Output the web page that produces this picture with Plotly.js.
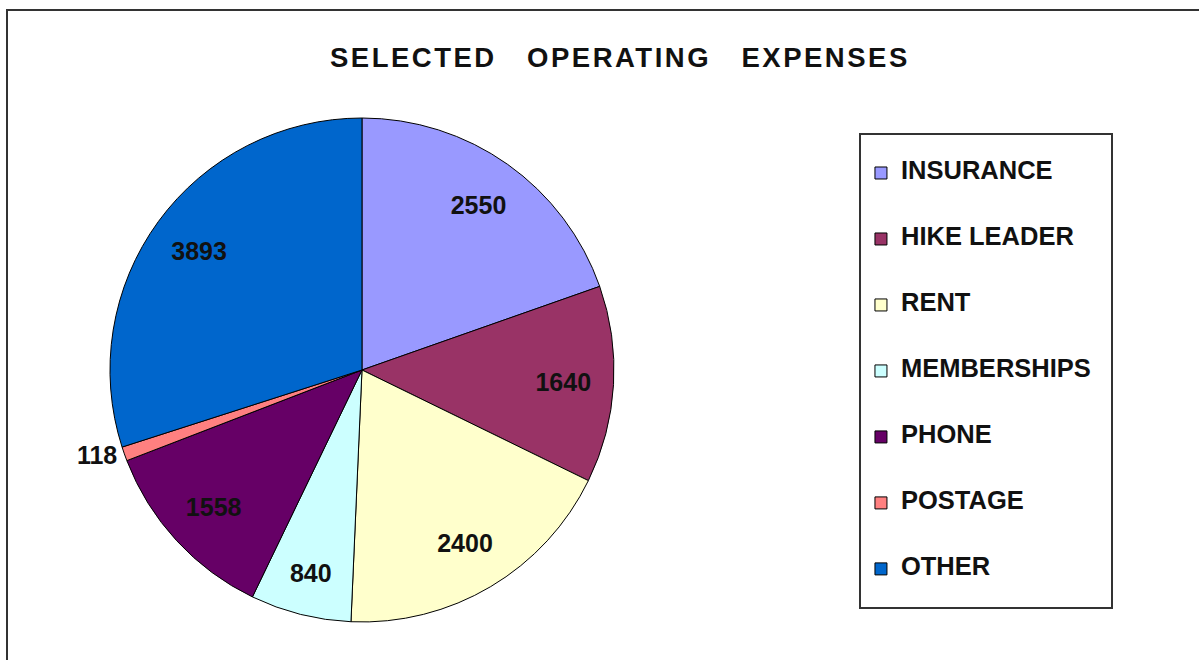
<!DOCTYPE html>
<html>
<head>
<meta charset="utf-8">
<script src="https://cdn.plot.ly/plotly-3.0.1.min.js"></script>
<style>html,body{margin:0;padding:0;background:#fff;}#chart{width:1199px;height:660px;}</style>
</head>
<body>
<div id="chart"></div>
<script>
const categories = ["INSURANCE", "HIKE LEADER", "RENT", "MEMBERSHIPS", "PHONE", "POSTAGE", "OTHER"];
const values = [2550, 1640, 2400, 840, 1558, 118, 3893];
const colors = ["#9999FF", "#993366", "#FFFFCC", "#CCFFFF", "#660066", "#FF8080", "#0066CC"];
const titleText = "SELECTED OPERATING EXPENSES";

const FONT = "Liberation Sans, Arial, sans-serif";
const legendLabels = categories.map(c =>
  "&nbsp;<br><span style='font-size:25.5px'>" + c + "&nbsp;&nbsp;</span><br>&nbsp;");

const pieDomain = { x: [0.0917, 0.5121], y: [0.0576, 0.8212] };

// colored slices
const slices = {
  type: "pie",
  labels: legendLabels,
  values: values,
  marker: { colors: colors, line: { color: "#000", width: 1 } },
  sort: false,
  direction: "clockwise",
  rotation: 0,
  textinfo: "none",
  hoverinfo: "none",
  domain: pieDomain
};

// transparent ring carrying the value labels (places them toward the rim)
const valueRing = {
  type: "pie",
  labels: legendLabels,
  values: values,
  hole: 0.6,
  marker: { colors: values.map(() => "rgba(0,0,0,0)"), line: { width: 0 } },
  sort: false,
  direction: "clockwise",
  rotation: 0,
  showlegend: false,
  textinfo: "value",
  textposition: values.map(v => v < 200 ? "outside" : "inside"),
  insidetextorientation: "horizontal",
  textfont: { family: FONT, size: 25, color: "#111", weight: "bold" },
  outsidetextfont: { family: FONT, size: 25, color: "#111", weight: "bold" },
  hoverinfo: "none",
  domain: pieDomain
};

const layout = {
  width: 1199, height: 660,
  margin: { l: 0, r: 0, t: 0, b: 0 },
  paper_bgcolor: "#fff",
  font: { family: FONT, color: "#111" },
  title: {
    text: "<span style='letter-spacing:2.5px'>" + titleText.replace(/ /g, "&nbsp;&nbsp;&nbsp;") + "</span>",
    font: { size: 27.5, weight: "bold", color: "#111" },
    x: 0.517, xanchor: "center", y: 0.9136, yanchor: "middle", xref: "paper", yref: "paper"
  },
  showlegend: true,
  legend: {
    x: 0.7164, xanchor: "left", y: 1 - 133 / 660, yanchor: "top",
    bordercolor: "#333", borderwidth: 2, bgcolor: "#fff",
    font: { size: 16.15, weight: "bold", color: "#111" },
    valign: "middle", traceorder: "normal"
  },
  shapes: [{
    type: "rect", xref: "paper", yref: "paper",
    x0: 7 / 1199, x1: 1.05, y0: -0.05, y1: 1 - 10 / 660,
    line: { color: "#333", width: 2 }, fillcolor: "rgba(0,0,0,0)", layer: "below"
  }]
};

Plotly.newPlot("chart", [slices, valueRing], layout, { displayModeBar: false, staticPlot: true });
</script>
</body>
</html>
